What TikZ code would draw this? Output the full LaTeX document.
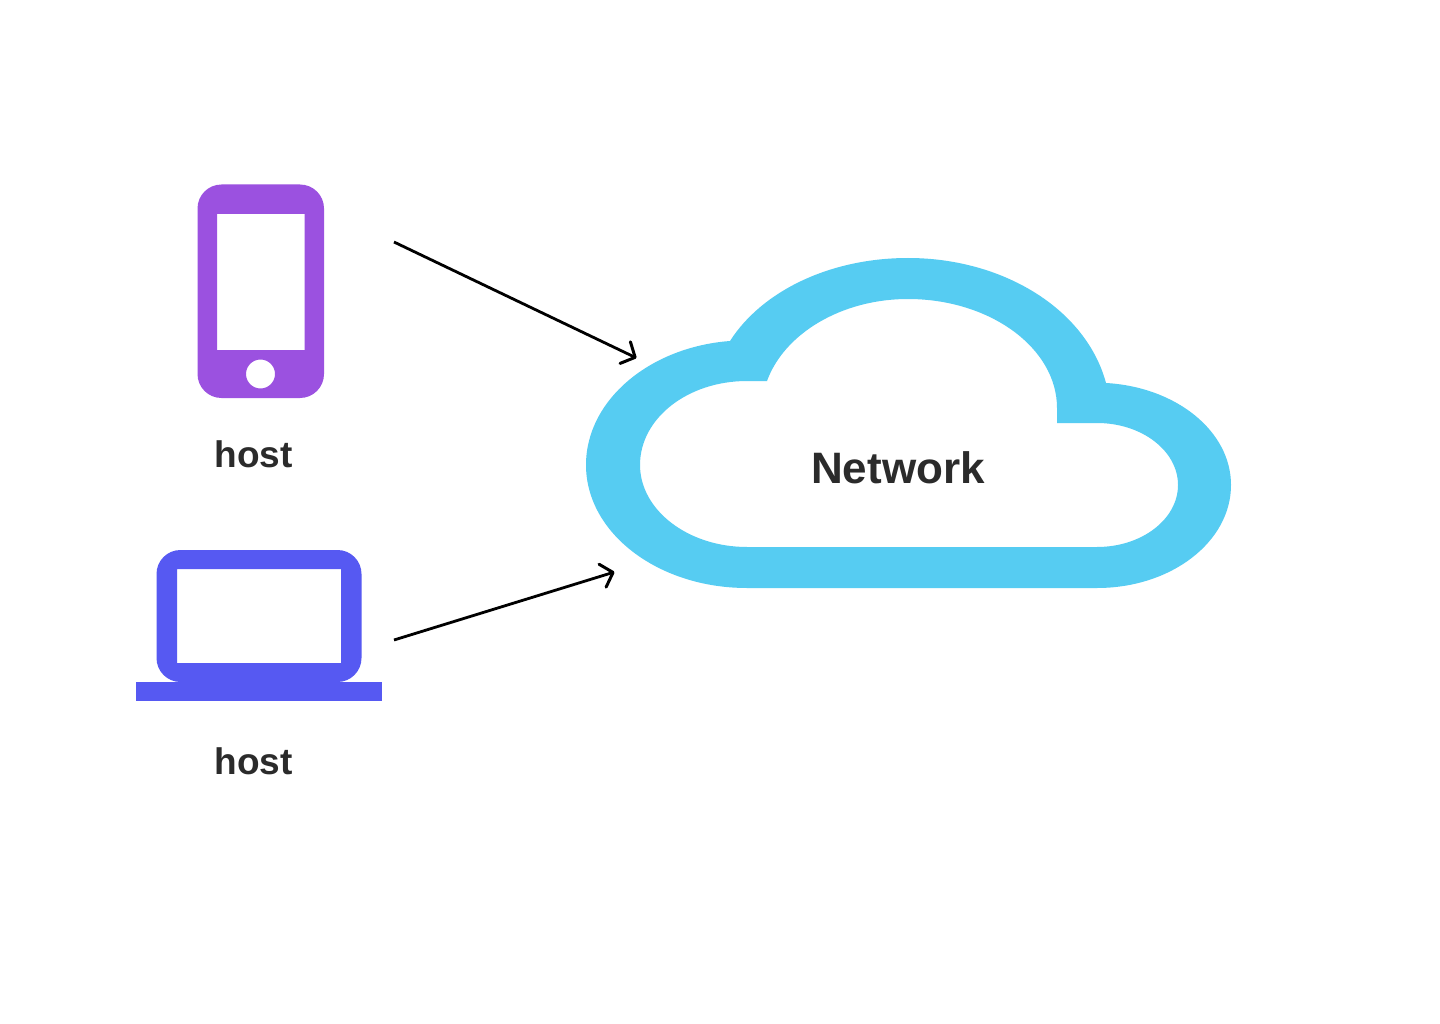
\documentclass[tikz,border=0pt]{standalone}
\usepackage{fontspec}
\setmainfont{Liberation Sans}
\usetikzlibrary{arrows.meta}
\definecolor{cloudc}{HTML}{56CCF2}
\definecolor{phonec}{HTML}{9B51E0}
\definecolor{lapc}{HTML}{5659F2}
\definecolor{txtc}{HTML}{2B2B2B}
\tikzset{
  lbl/.style={text=txtc,font=\fontsize{37}{40}\selectfont\bfseries,inner sep=0pt,anchor=base},
  bigl/.style={text=txtc,font=\fontsize{44}{50}\selectfont\bfseries,inner sep=0pt,anchor=base},
  conn/.style={draw=black,line width=2.8pt,-{Straight Barb[length=11pt,width=24pt,line width=3pt,round]}}
}
\begin{document}
\begin{tikzpicture}[x=1pt,y=-1pt]
\useasboundingbox (0,0) rectangle (1440,1024);
\fill[white] (0,0) rectangle (1440,1024);
% phone
\fill[phonec,even odd rule,rounded corners=24pt] (197.5,184.5) rectangle (324,398)
 [sharp corners] (217,214) rectangle (304.5,350)
 (260.5,374) circle[radius=14.5];
% laptop
\fill[lapc,even odd rule,rounded corners=24pt] (156.5,550) rectangle (361.5,682)
 [sharp corners] (177,569) rectangle (341,663);
\fill[lapc] (136,682) rectangle (382,701);
% cloud
\fill[cloudc,even odd rule]
 (730,341) .. controls (762,291) and (830,258) .. (908,258)
 .. controls (1003,258) and (1086,309) .. (1106,383)
 .. controls (1176,387) and (1231,431) .. (1231,485)
 .. controls (1231,542) and (1171,588) .. (1097,588)
 -- (747,588)
 .. controls (658,588) and (586,533) .. (586,465)
 .. controls (586,400) and (650,347) .. (730,341) -- cycle
 (767,381) .. controls (784,334) and (841,299) .. (908,299)
 .. controls (990,299) and (1057,348) .. (1057,408)
 -- (1057,423) -- (1097,423)
 .. controls (1142,423) and (1178,451) .. (1178,485)
 .. controls (1178,519) and (1142,547) .. (1097,547)
 -- (747,547)
 .. controls (688,547) and (640,510) .. (640,465)
 .. controls (640,418) and (688,381) .. (747,381) -- cycle;
% labels
\node[lbl] (host1) at (253.5,467) {host};
\node[lbl] (host2) at (253.5,774) {host};
\node[bigl] (net) at (898,483) {Network};
% connectors
\coordinate (a1) at (394,242);
\coordinate (b1) at (636.5,358);
\coordinate (a2) at (394,640);
\coordinate (b2) at (614.5,572);
\draw[conn] (a1) -- (b1);
\draw[conn] (a2) -- (b2);
\end{tikzpicture}
\end{document}
